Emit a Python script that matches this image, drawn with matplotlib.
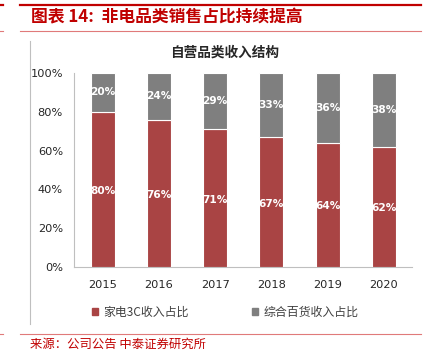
import matplotlib
matplotlib.use("Agg")
import matplotlib.pyplot as plt
from matplotlib.lines import Line2D
from matplotlib.patches import Rectangle

plt.rcParams['font.family'] = ['Noto Sans CJK SC', 'DejaVu Sans']

years = ['2015', '2016', '2017', '2018', '2019', '2020']
appliance_3c = [80, 76, 71, 67, 64, 62]
general_merch = [20, 24, 29, 33, 36, 38]
series_names = ['家电3C收入占比', '综合百货收入占比']
y_ticks = [0, 20, 40, 60, 80, 100]
y_tick_labels = ['0%', '20%', '40%', '60%', '80%', '100%']

RED = '#A94444'
GRAY = '#7F7F7F'
TITLE_RED = '#C00000'

W, H = 436, 357
fig = plt.figure(figsize=(W / 100, H / 100), dpi=100)

def fx(px):
    return px / W

def fy(py):
    return 1 - py / H

# decorative lines
fig.add_artist(Line2D([fx(20), fx(421)], [fy(5), fy(5)], color=TITLE_RED, lw=1.6))
fig.add_artist(Line2D([fx(0), fx(3)], [fy(5), fy(5)], color=TITLE_RED, lw=1.6))
fig.add_artist(Line2D([fx(20), fx(421)], [fy(31), fy(31)], color='#E07A7A', lw=0.8))
fig.add_artist(Line2D([fx(0), fx(3)], [fy(31), fy(31)], color='#E07A7A', lw=0.8))
fig.add_artist(Line2D([fx(20), fx(421)], [fy(333.5), fy(333.5)], color='#E07A7A', lw=0.8))
fig.add_artist(Line2D([fx(0), fx(3)], [fy(333.5), fy(333.5)], color='#E07A7A', lw=0.8))
fig.add_artist(Line2D([fx(29.5), fx(29.5)], [fy(41), fy(324)], color='#BFBFBF', lw=0.8))

fig.text(fx(31), fy(17.5), '图表 14:  非电品类销售占比持续提高', color=TITLE_RED,
         fontsize=12.1, fontweight='bold', fontstyle='italic', va='center', ha='left')
fig.text(fx(30), fy(344), '来源：公司公告 中泰证券研究所', color=TITLE_RED,
         fontsize=8.9, va='center', ha='left')
fig.text(fx(225), fy(53), '自营品类收入结构', color='#262626',
         fontsize=9.8, fontweight='bold', va='center', ha='center')

ax = fig.add_axes([fx(74), fy(267), fx(412) - fx(74), fy(73) - fy(267)])
x = list(range(len(years)))
width = 0.43
b1 = ax.bar(x, appliance_3c, width, color=RED, edgecolor='white', linewidth=0.8,
            label=series_names[0], zorder=3)
b2 = ax.bar(x, general_merch, width, bottom=appliance_3c, color=GRAY, edgecolor='white',
            linewidth=0.8, label=series_names[1], zorder=3)

for rect, v in zip(b1, appliance_3c):
    ax.text(rect.get_x() + rect.get_width() / 2, v / 2 - 0.8, f'{v}%', color='white',
            fontsize=7.6, fontweight='bold', ha='center', va='center',
            family='DejaVu Sans', zorder=4)
for rect, b, v in zip(b2, appliance_3c, general_merch):
    ax.text(rect.get_x() + rect.get_width() / 2, b + v / 2, f'{v}%', color='white',
            fontsize=7.6, fontweight='bold', ha='center', va='center',
            family='DejaVu Sans', zorder=4)

ax.set_xlim(-0.51, 5.5)
ax.set_ylim(0, 100)
ax.set_yticks(y_ticks)
ax.set_yticklabels(y_tick_labels, family='DejaVu Sans', fontsize=8.2, color='#262626')
ax.set_xticks(x)
ax.set_xticklabels(years, family='DejaVu Sans', fontsize=8.2, color='#262626')
ax.tick_params(axis='both', length=0, pad=8)
ax.tick_params(axis='x', pad=9)
for s in ['top', 'right']:
    ax.spines[s].set_visible(False)
for s in ['left', 'bottom']:
    ax.spines[s].set_color('#BFBFBF')
    ax.spines[s].set_linewidth(0.8)

handles = [Rectangle((0, 0), 1, 1, color=RED), Rectangle((0, 0), 1, 1, color=GRAY)]
fig.legend(handles, series_names, loc='center', bbox_to_anchor=(fx(225), fy(312)),
           ncol=2, frameon=False, fontsize=8.6, handlelength=0.55, handleheight=0.55,
           handletextpad=0.4, columnspacing=5.3, labelcolor='#404040')

fig.savefig('out.png', dpi=100)
